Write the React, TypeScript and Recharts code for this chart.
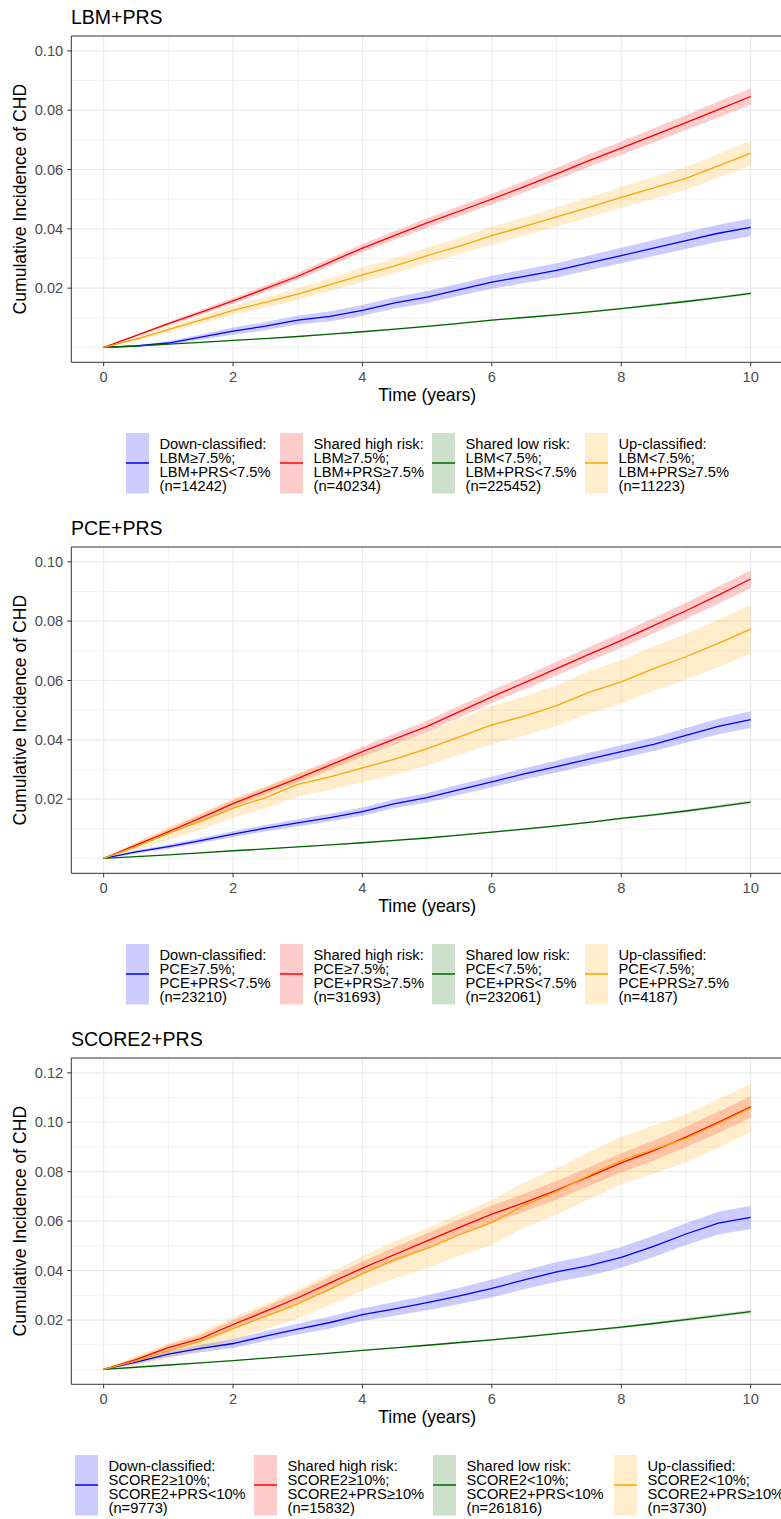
import {
  Area,
  CartesianGrid,
  ComposedChart,
  Line,
  ReferenceArea,
  XAxis,
  YAxis
} from "recharts";

const TIMES = [0, 0.5, 1, 1.5, 2, 2.5, 3, 3.5, 4, 4.5, 5, 5.5, 6, 6.5, 7, 7.5, 8, 8.5, 9, 9.5, 10];
const X_TICKS = [0, 2, 4, 6, 8, 10];

// LBM+PRS
const LBM_DOWN = [0, 0.0005, 0.0015, 0.0035, 0.0055, 0.0072, 0.0092, 0.0105, 0.0125, 0.015, 0.017, 0.0195, 0.022, 0.024, 0.026, 0.0285, 0.031, 0.0335, 0.036, 0.0385, 0.0405];
const LBM_DOWN_LO = [0, 0.0002, 0.0009, 0.0026, 0.0043, 0.0058, 0.0077, 0.0088, 0.0107, 0.0131, 0.015, 0.0174, 0.0198, 0.0217, 0.0236, 0.026, 0.0284, 0.0308, 0.0332, 0.0356, 0.0375];
const LBM_DOWN_HI = [0, 0.0008, 0.0021, 0.0044, 0.0067, 0.0086, 0.0107, 0.0122, 0.0143, 0.0169, 0.019, 0.0216, 0.0242, 0.0263, 0.0284, 0.031, 0.0336, 0.0362, 0.0388, 0.0414, 0.0435];
const LBM_HIGH = [0, 0.004, 0.008, 0.0118, 0.0157, 0.0198, 0.024, 0.0288, 0.0335, 0.0378, 0.042, 0.046, 0.05, 0.0542, 0.0585, 0.063, 0.0672, 0.0715, 0.0758, 0.0802, 0.0846];
const LBM_HIGH_LO = [0, 0.0036, 0.0074, 0.011, 0.0147, 0.0187, 0.0228, 0.0275, 0.0321, 0.0363, 0.0404, 0.0443, 0.0482, 0.0523, 0.0565, 0.0609, 0.065, 0.0691, 0.0733, 0.0775, 0.0818];
const LBM_HIGH_HI = [0, 0.0044, 0.0086, 0.0126, 0.0167, 0.0209, 0.0252, 0.0301, 0.0349, 0.0393, 0.0436, 0.0477, 0.0518, 0.0561, 0.0605, 0.0651, 0.0694, 0.0739, 0.0783, 0.0829, 0.0874];
const LBM_LOW = [0, 0.0005, 0.0011, 0.0017, 0.0024, 0.003, 0.0037, 0.0045, 0.0053, 0.0062, 0.0071, 0.0081, 0.0092, 0.0101, 0.011, 0.012, 0.0131, 0.0143, 0.0155, 0.0168, 0.0182];
const LBM_LOW_LO = [0, 0.0005, 0.0011, 0.0016, 0.0023, 0.0029, 0.0036, 0.0044, 0.0051, 0.006, 0.0069, 0.0079, 0.009, 0.0099, 0.0107, 0.0117, 0.0128, 0.0139, 0.0151, 0.0164, 0.0177];
const LBM_LOW_HI = [0, 0.0005, 0.0011, 0.0018, 0.0025, 0.0031, 0.0038, 0.0046, 0.0055, 0.0064, 0.0073, 0.0083, 0.0094, 0.0103, 0.0113, 0.0123, 0.0134, 0.0147, 0.0159, 0.0172, 0.0187];
const LBM_UP = [0, 0.0028, 0.006, 0.0092, 0.0125, 0.0152, 0.018, 0.0212, 0.0245, 0.0275, 0.031, 0.0342, 0.0377, 0.0408, 0.044, 0.0472, 0.0506, 0.0538, 0.057, 0.0612, 0.0655];
const LBM_UP_LO = [0, 0.0022, 0.005, 0.008, 0.011, 0.0134, 0.016, 0.019, 0.022, 0.0249, 0.0283, 0.0314, 0.0347, 0.0377, 0.0408, 0.0438, 0.0471, 0.0501, 0.0532, 0.0572, 0.0613];
const LBM_UP_HI = [0, 0.0034, 0.007, 0.0104, 0.014, 0.017, 0.02, 0.0234, 0.027, 0.0301, 0.0337, 0.037, 0.0407, 0.0439, 0.0472, 0.0506, 0.0541, 0.0575, 0.0608, 0.0652, 0.0697];

// PCE+PRS
const PCE_DOWN = [0, 0.0022, 0.004, 0.006, 0.0082, 0.0102, 0.012, 0.0138, 0.0158, 0.0185, 0.0205, 0.0232, 0.0258, 0.0285, 0.031, 0.0335, 0.036, 0.0385, 0.0415, 0.0445, 0.0468];
const PCE_DOWN_LO = [0, 0.0017, 0.0033, 0.0051, 0.0072, 0.0091, 0.0108, 0.0125, 0.0144, 0.017, 0.0189, 0.0215, 0.024, 0.0266, 0.029, 0.0314, 0.0338, 0.0362, 0.039, 0.0419, 0.044];
const PCE_DOWN_HI = [0, 0.0027, 0.0047, 0.0069, 0.0092, 0.0113, 0.0132, 0.0151, 0.0172, 0.02, 0.0221, 0.0249, 0.0276, 0.0304, 0.033, 0.0356, 0.0382, 0.0408, 0.044, 0.0471, 0.0496];
const PCE_HIGH = [0, 0.0045, 0.009, 0.0137, 0.0185, 0.0228, 0.027, 0.0315, 0.036, 0.0403, 0.0445, 0.0495, 0.0545, 0.0592, 0.064, 0.0688, 0.0735, 0.0785, 0.0835, 0.0888, 0.0942];
const PCE_HIGH_LO = [0, 0.0039, 0.0081, 0.0126, 0.0173, 0.0215, 0.0256, 0.0299, 0.0343, 0.0385, 0.0426, 0.0475, 0.0524, 0.057, 0.0617, 0.0664, 0.071, 0.0759, 0.0808, 0.0859, 0.0912];
const PCE_HIGH_HI = [0, 0.0051, 0.0099, 0.0148, 0.0197, 0.0241, 0.0284, 0.0331, 0.0377, 0.0421, 0.0464, 0.0515, 0.0566, 0.0614, 0.0663, 0.0712, 0.076, 0.0811, 0.0862, 0.0917, 0.0972];
const PCE_LOW = [0, 0.0006, 0.0012, 0.0019, 0.0026, 0.0032, 0.0039, 0.0046, 0.0053, 0.0061, 0.0069, 0.0079, 0.0089, 0.0099, 0.011, 0.0122, 0.0135, 0.0147, 0.016, 0.0175, 0.019];
const PCE_LOW_LO = [0, 0.0006, 0.0012, 0.0018, 0.0025, 0.0031, 0.0038, 0.0045, 0.0051, 0.0059, 0.0067, 0.0077, 0.0087, 0.0096, 0.0107, 0.0119, 0.0131, 0.0143, 0.0156, 0.017, 0.0185];
const PCE_LOW_HI = [0, 0.0006, 0.0012, 0.002, 0.0027, 0.0033, 0.004, 0.0047, 0.0055, 0.0063, 0.0071, 0.0081, 0.0091, 0.0102, 0.0113, 0.0125, 0.0139, 0.0151, 0.0164, 0.018, 0.0195];
const PCE_UP = [0, 0.004, 0.0085, 0.0125, 0.017, 0.0205, 0.025, 0.0275, 0.0305, 0.0335, 0.037, 0.041, 0.045, 0.048, 0.0515, 0.056, 0.0595, 0.064, 0.068, 0.0725, 0.0773];
const PCE_UP_LO = [0, 0.0025, 0.0063, 0.0097, 0.0137, 0.0168, 0.021, 0.0231, 0.0257, 0.0282, 0.0313, 0.035, 0.0386, 0.0414, 0.0447, 0.0489, 0.0522, 0.0565, 0.0603, 0.0645, 0.0691];
const PCE_UP_HI = [0, 0.0055, 0.0107, 0.0153, 0.0203, 0.0242, 0.029, 0.0319, 0.0353, 0.0388, 0.0427, 0.047, 0.0514, 0.0546, 0.0583, 0.0631, 0.0668, 0.0715, 0.0757, 0.0805, 0.0855];

// SCORE2+PRS
const SC_DOWN = [0, 0.003, 0.0062, 0.0085, 0.0105, 0.0135, 0.0163, 0.019, 0.0222, 0.0245, 0.027, 0.0298, 0.0328, 0.0362, 0.0395, 0.042, 0.0453, 0.0498, 0.0548, 0.0592, 0.0615];
const SC_DOWN_LO = [0, 0.0022, 0.005, 0.007, 0.0087, 0.0115, 0.0141, 0.0166, 0.0196, 0.0217, 0.024, 0.0265, 0.0292, 0.0324, 0.0355, 0.0379, 0.0411, 0.0455, 0.0504, 0.0546, 0.0568];
const SC_DOWN_HI = [0, 0.0038, 0.0074, 0.01, 0.0123, 0.0155, 0.0185, 0.0214, 0.0248, 0.0273, 0.03, 0.0331, 0.0364, 0.04, 0.0435, 0.0461, 0.0495, 0.0541, 0.0592, 0.0638, 0.0662];
const SC_HIGH = [0, 0.004, 0.0088, 0.0125, 0.0182, 0.0235, 0.029, 0.035, 0.041, 0.0465, 0.052, 0.0575, 0.0628, 0.0675, 0.0725, 0.078, 0.0836, 0.0885, 0.094, 0.1, 0.1062];
const SC_HIGH_LO = [0, 0.0032, 0.0076, 0.011, 0.0164, 0.0215, 0.0268, 0.0325, 0.0383, 0.0436, 0.0489, 0.0542, 0.0593, 0.0639, 0.0688, 0.0742, 0.0797, 0.0845, 0.0899, 0.0957, 0.1018];
const SC_HIGH_HI = [0, 0.0048, 0.01, 0.014, 0.02, 0.0255, 0.0312, 0.0375, 0.0437, 0.0494, 0.0551, 0.0608, 0.0663, 0.0711, 0.0762, 0.0818, 0.0875, 0.0925, 0.0981, 0.1043, 0.1106];
const SC_LOW = [0, 0.0009, 0.0018, 0.0027, 0.0036, 0.0046, 0.0056, 0.0066, 0.0077, 0.0087, 0.0098, 0.0109, 0.012, 0.0132, 0.0145, 0.0158, 0.0171, 0.0186, 0.0202, 0.0218, 0.0234];
const SC_LOW_LO = [0, 0.0009, 0.0018, 0.0026, 0.0035, 0.0045, 0.0055, 0.0064, 0.0075, 0.0085, 0.0095, 0.0106, 0.0117, 0.0128, 0.0141, 0.0154, 0.0166, 0.0181, 0.0196, 0.0212, 0.0227];
const SC_LOW_HI = [0, 0.0009, 0.0018, 0.0028, 0.0037, 0.0047, 0.0057, 0.0068, 0.0079, 0.0089, 0.0101, 0.0112, 0.0123, 0.0136, 0.0149, 0.0162, 0.0176, 0.0191, 0.0208, 0.0224, 0.0241];
const SC_UP = [0, 0.0035, 0.0075, 0.0115, 0.0165, 0.0215, 0.0265, 0.0325, 0.0388, 0.0445, 0.049, 0.0545, 0.0595, 0.0665, 0.072, 0.0785, 0.0845, 0.089, 0.0935, 0.0995, 0.1058];
const SC_UP_LO = [0, 0.0013, 0.0045, 0.0077, 0.012, 0.0163, 0.0207, 0.0261, 0.0318, 0.037, 0.041, 0.046, 0.0505, 0.0573, 0.0626, 0.069, 0.0749, 0.0793, 0.0838, 0.0897, 0.096];
const SC_UP_HI = [0, 0.0057, 0.0105, 0.0153, 0.021, 0.0267, 0.0323, 0.0389, 0.0458, 0.052, 0.057, 0.063, 0.0685, 0.0757, 0.0814, 0.088, 0.0941, 0.0987, 0.1032, 0.1093, 0.1156];

const LBM_LEGEND = [
  ["Down-classified:", "LBM≥7.5%;", "LBM+PRS<7.5%", "(n=14242)"],
  ["Shared high risk:", "LBM≥7.5%;", "LBM+PRS≥7.5%", "(n=40234)"],
  ["Shared low risk:", "LBM<7.5%;", "LBM+PRS<7.5%", "(n=225452)"],
  ["Up-classified:", "LBM<7.5%;", "LBM+PRS≥7.5%", "(n=11223)"]
];
const PCE_LEGEND = [
  ["Down-classified:", "PCE≥7.5%;", "PCE+PRS<7.5%", "(n=23210)"],
  ["Shared high risk:", "PCE≥7.5%;", "PCE+PRS≥7.5%", "(n=31693)"],
  ["Shared low risk:", "PCE<7.5%;", "PCE+PRS<7.5%", "(n=232061)"],
  ["Up-classified:", "PCE<7.5%;", "PCE+PRS≥7.5%", "(n=4187)"]
];
const SC_LEGEND = [
  ["Down-classified:", "SCORE2≥10%;", "SCORE2+PRS<10%", "(n=9773)"],
  ["Shared high risk:", "SCORE2≥10%;", "SCORE2+PRS≥10%", "(n=15832)"],
  ["Shared low risk:", "SCORE2<10%;", "SCORE2+PRS<10%", "(n=261816)"],
  ["Up-classified:", "SCORE2<10%;", "SCORE2+PRS≥10%", "(n=3730)"]
];

const COLORS = ["#0000FF", "#FF0000", "#006400", "#FFA500"];
const KEYS = ["down", "high", "low", "up"];
const FONT = '"Liberation Sans", Arial, Helvetica, sans-serif';

type Group = { est: number[]; lo: number[]; hi: number[] };

function Panel({
  top,
  title,
  yMax,
  yTicks,
  yMinor,
  groups,
  legend,
  keyX
}: {
  top: number;
  title: string;
  yMax: number;
  yTicks: number[];
  yMinor: number[];
  groups: Group[];
  legend: string[][];
  keyX: number[];
}) {
  const rows = TIMES.map((t, i) => {
    const row: Record<string, unknown> = { t };
    groups.forEach((g, k) => {
      row[KEYS[k]] = g.est[i];
      row[KEYS[k] + "Band"] = [g.lo[i], g.hi[i]];
    });
    return row;
  });
  const yLow = -yMax * 0.05;
  const yHigh = yMax * 1.05;

  return (
    <div style={{ position: "absolute", left: 0, top, width: 781, height: 512 }}>
      <div style={{ position: "absolute", left: 0, top: 0 }}>
        <ComposedChart
          width={784}
          height={422.3}
          data={rows}
          margin={{ top: 36, right: 1, bottom: 0, left: 0 }}
        >
          <CartesianGrid
            stroke="#EBEBEB"
            strokeWidth={0.7}
            horizontalValues={yMinor}
            verticalValues={[1, 3, 5, 7, 9]}
          />
          <CartesianGrid
            stroke="#EBEBEB"
            strokeWidth={1.2}
            horizontalValues={yTicks}
            verticalValues={X_TICKS}
          />
          <XAxis
            dataKey="t"
            type="number"
            domain={[-0.5, 10.5]}
            ticks={X_TICKS}
            axisLine={false}
            tickLine={{ stroke: "#333333" }}
            tickSize={4}
            tickMargin={5}
            tick={{ fill: "#4D4D4D", fontSize: 14.7 }}
            height={60}
            label={{
              value: "Time (years)",
              position: "insideBottom",
              offset: 20.8,
              fill: "#000000",
              fontSize: 17.6
            }}
          />
          <YAxis
            type="number"
            domain={[yLow, yHigh]}
            ticks={yTicks}
            tickFormatter={(v: number) => v.toFixed(2)}
            axisLine={false}
            tickLine={{ stroke: "#333333" }}
            tickSize={4}
            tickMargin={4}
            tick={{ fill: "#4D4D4D", fontSize: 14.7 }}
            width={71.3}
            label={{
              value: "Cumulative Incidence of CHD",
              angle: -90,
              position: "insideLeft",
              offset: 20,
              textAnchor: "middle",
              fill: "#000000",
              fontSize: 17.6
            }}
          />
          {KEYS.map((k, i) => (
            <Area
              key={k + "Band"}
              dataKey={k + "Band"}
              type="linear"
              stroke="none"
              fill={COLORS[i]}
              fillOpacity={0.2}
              dot={false}
              activeDot={false}
              isAnimationActive={false}
            />
          ))}
          {KEYS.map((k, i) => (
            <Line
              key={k}
              dataKey={k}
              type="linear"
              stroke={COLORS[i]}
              strokeWidth={1.3}
              dot={false}
              activeDot={false}
              isAnimationActive={false}
            />
          ))}
          <ReferenceArea
            x1={-0.5}
            x2={10.5}
            y1={yLow}
            y2={yHigh}
            fill="none"
            stroke="#333333"
            strokeWidth={1}
          />
        </ComposedChart>
      </div>
      <svg
        width={781}
        height={512}
        style={{ position: "absolute", left: 0, top: 0, pointerEvents: "none" }}
      >
        <text x={71} y={24} fontSize={19.5} fill="#000000">
          {title}
        </text>
        {legend.map((lines, i) => (
          <g key={i}>
            <rect
              x={keyX[i]}
              y={433}
              width={23}
              height={60.5}
              fill={COLORS[i]}
              fillOpacity={0.2}
            />
            <line
              x1={keyX[i]}
              x2={keyX[i] + 23}
              y1={463}
              y2={463}
              stroke={COLORS[i]}
              strokeWidth={1.5}
            />
            <text x={keyX[i] + 33.5} fontSize={14.7} fill="#000000">
              {lines.map((s, j) => (
                <tspan key={j} x={keyX[i] + 33.5} y={448.5 + j * 14.2}>
                  {s}
                </tspan>
              ))}
            </text>
          </g>
        ))}
      </svg>
    </div>
  );
}

export default function App() {
  return (
    <div
      style={{
        position: "absolute",
        left: 0,
        top: 0,
        width: 781,
        height: 1519,
        overflow: "hidden",
        background: "#FFFFFF",
        fontFamily: FONT
      }}
    >
      <Panel
        top={0}
        title="LBM+PRS"
        yMax={0.1}
        yTicks={[0.02, 0.04, 0.06, 0.08, 0.1]}
        yMinor={[0, 0.01, 0.03, 0.05, 0.07, 0.09]}
        groups={[
          { est: LBM_DOWN, lo: LBM_DOWN_LO, hi: LBM_DOWN_HI },
          { est: LBM_HIGH, lo: LBM_HIGH_LO, hi: LBM_HIGH_HI },
          { est: LBM_LOW, lo: LBM_LOW_LO, hi: LBM_LOW_HI },
          { est: LBM_UP, lo: LBM_UP_LO, hi: LBM_UP_HI }
        ]}
        legend={LBM_LEGEND}
        keyX={[126, 280, 432, 585]}
      />
      <Panel
        top={511.3}
        title="PCE+PRS"
        yMax={0.1}
        yTicks={[0.02, 0.04, 0.06, 0.08, 0.1]}
        yMinor={[0, 0.01, 0.03, 0.05, 0.07, 0.09]}
        groups={[
          { est: PCE_DOWN, lo: PCE_DOWN_LO, hi: PCE_DOWN_HI },
          { est: PCE_HIGH, lo: PCE_HIGH_LO, hi: PCE_HIGH_HI },
          { est: PCE_LOW, lo: PCE_LOW_LO, hi: PCE_LOW_HI },
          { est: PCE_UP, lo: PCE_UP_LO, hi: PCE_UP_HI }
        ]}
        legend={PCE_LEGEND}
        keyX={[126, 280, 432, 585]}
      />
      <Panel
        top={1022.2}
        title="SCORE2+PRS"
        yMax={0.12}
        yTicks={[0.02, 0.04, 0.06, 0.08, 0.1, 0.12]}
        yMinor={[0, 0.01, 0.03, 0.05, 0.07, 0.09, 0.11]}
        groups={[
          { est: SC_DOWN, lo: SC_DOWN_LO, hi: SC_DOWN_HI },
          { est: SC_HIGH, lo: SC_HIGH_LO, hi: SC_HIGH_HI },
          { est: SC_LOW, lo: SC_LOW_LO, hi: SC_LOW_HI },
          { est: SC_UP, lo: SC_UP_LO, hi: SC_UP_HI }
        ]}
        legend={SC_LEGEND}
        keyX={[75, 254, 433, 614]}
      />
    </div>
  );
}
